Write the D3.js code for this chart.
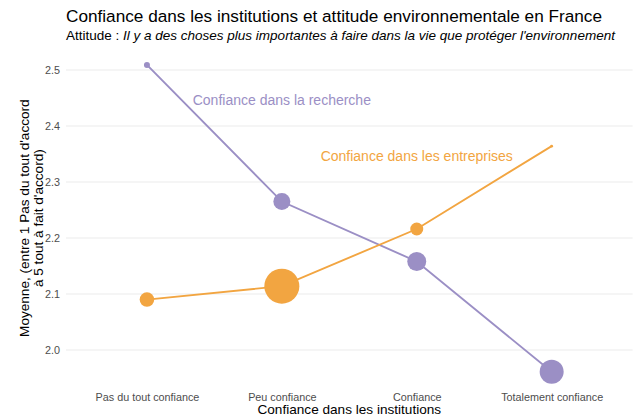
<!DOCTYPE html>
<html>
<head>
<meta charset="utf-8">
<script src="https://cdn.jsdelivr.net/npm/d3@7"></script>
<style>
  body { margin: 0; background: #fff; }
  text { font-family: "Liberation Sans", Arial, sans-serif; }
</style>
</head>
<body>
<script>
'use strict';

// categories on x
const categories = ["Pas du tout confiance", "Peu confiance", "Confiance", "Totalement confiance"];
// mean values per series
const rechercheValues = [2.509, 2.265, 2.158, 1.961];
const entreprisesValues = [2.090, 2.114, 2.216, 2.364];
// group sizes (point area)
const rechercheCounts = [9, 72, 90, 144];
const entreprisesCounts = [53, 306, 42, 2];
const yTicks = [2.0, 2.1, 2.2, 2.3, 2.4, 2.5];

const series = [
  { name: "Confiance dans la recherche", values: rechercheValues, counts: rechercheCounts, color: "#9b8fc5", labelAt: 1, labelY: 2.447 },
  { name: "Confiance dans les entreprises", values: entreprisesValues, counts: entreprisesCounts, color: "#f2a541", labelAt: 2, labelY: 2.346 }
];

const width = 634, height = 419;
const panel = { left: 66, right: 632.6, top: 49.3, bottom: 387 };

const svg = d3.select("body").append("svg")
  .attr("width", width)
  .attr("height", height);

// discrete x scale with ggplot-like 0.6 expansion
const xScale = d3.scalePoint()
  .domain(categories)
  .range([panel.left, panel.right])
  .padding(0.6);

const yScale = d3.scaleLinear()
  .domain([1.9339, 2.5369])
  .range([panel.bottom, panel.top]);

const allCounts = rechercheCounts.concat(entreprisesCounts);
const rScale = d3.scaleSqrt()
  .domain([0, d3.max(allCounts)])
  .range([0, 17.5]);

// horizontal grid
svg.append("g")
  .selectAll("line")
  .data(yTicks)
  .enter()
  .append("line")
    .attr("x1", panel.left)
    .attr("x2", panel.right)
    .attr("y1", (d) => yScale(d))
    .attr("y2", (d) => yScale(d))
    .attr("stroke", "#ebebeb")
    .attr("stroke-width", 1.1);

// y axis labels
let yAxis = d3.axisLeft(yScale).tickValues(yTicks).tickFormat(d3.format(".1f")).tickSize(0).tickPadding(6);
let gy = svg.append("g")
  .attr("transform", "translate(" + panel.left + ",0)")
  .call(yAxis);
gy.select(".domain").remove();
gy.selectAll("text")
  .attr("fill", "#4d4d4d")
  .style("font-size", "10.8px")
  .style("font-family", "Liberation Sans, Arial, sans-serif");

// x axis labels
let xAxis = d3.axisBottom(xScale).tickSize(0).tickPadding(6);
let gx = svg.append("g")
  .attr("transform", "translate(0," + panel.bottom + ")")
  .call(xAxis);
gx.select(".domain").remove();
gx.selectAll("text")
  .attr("fill", "#4d4d4d")
  .style("font-size", "10.8px")
  .style("font-family", "Liberation Sans, Arial, sans-serif");

// lines and points
let line = d3.line()
  .x((d, i) => xScale(categories[i]))
  .y((d) => yScale(d));

series.forEach((s) => {
  svg.append("path")
    .datum(s.values)
    .attr("fill", "none")
    .attr("stroke", s.color)
    .attr("stroke-width", 1.9)
    .attr("d", line);
});

series.forEach((s) => {
  svg.append("g")
    .selectAll("circle")
    .data(s.values)
    .enter()
    .append("circle")
      .attr("cx", (d, i) => xScale(categories[i]))
      .attr("cy", (d) => yScale(d))
      .attr("r", (d, i) => rScale(s.counts[i]))
      .attr("fill", s.color);

  svg.append("text")
    .attr("x", xScale(categories[s.labelAt]))
    .attr("y", yScale(s.labelY))
    .attr("text-anchor", "middle")
    .attr("dominant-baseline", "central")
    .attr("fill", s.color)
    .style("font-size", "14px")
    .text(s.name);
});

// title and subtitle
svg.append("text")
  .attr("x", 66)
  .attr("y", 22)
  .style("font-size", "17.2px")
  .attr("fill", "#000")
  .text("Confiance dans les institutions et attitude environnementale en France");

let sub = svg.append("text")
  .attr("x", 66)
  .attr("y", 40)
  .style("font-size", "13.5px")
  .attr("fill", "#000");
sub.append("tspan").text("Attitude : ");
sub.append("tspan").style("font-style", "italic")
  .text("Il y a des choses plus importantes à faire dans la vie que protéger l'environnement");

// axis titles
svg.append("text")
  .attr("x", (panel.left + panel.right) / 2)
  .attr("y", 414)
  .attr("text-anchor", "middle")
  .style("font-size", "13.6px")
  .text("Confiance dans les institutions");

let yTitle = svg.append("text")
  .attr("transform", "translate(29," + ((panel.top + panel.bottom) / 2) + ")rotate(-90)")
  .attr("text-anchor", "middle")
  .style("font-size", "13.6px");
yTitle.append("tspan").attr("x", 0).attr("y", 0).text("Moyenne, (entre 1 Pas du tout d'accord");
yTitle.append("tspan").attr("x", 0).attr("y", 13.5).text("à 5 tout à fait d'accord)");
</script>
</body>
</html>
